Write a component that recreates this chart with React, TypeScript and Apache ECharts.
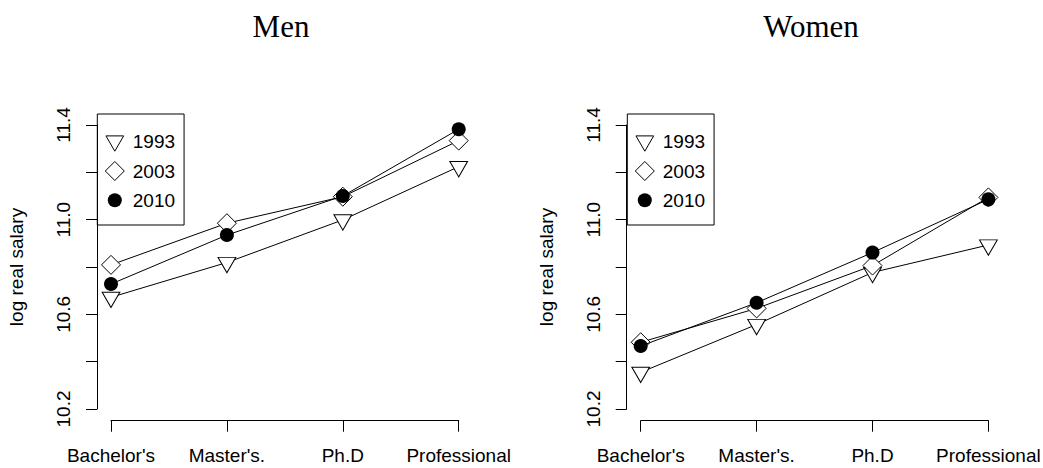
import React, { useEffect, useRef } from 'react';
import * as echarts from 'echarts';

const categories = ["Bachelor's", "Master's.", 'Ph.D', 'Professional'];
const years = ['1993', '2003', '2010'];
const panelTitles = ['Men', 'Women'];
const yTickLabels = ['10.2', '10.6', '11.0', '11.4'];

const men1993 = [10.672, 10.819, 10.999, 11.224];
const men2003 = [10.809, 10.985, 11.097, 11.334];
const men2010 = [10.728, 10.935, 11.1, 11.382];
const women1993 = [10.355, 10.557, 10.777, 10.893];
const women2003 = [10.482, 10.625, 10.806, 11.094];
const women2010 = [10.466, 10.649, 10.861, 11.086];

const panelData = [
  [men1993, men2003, men2010],
  [women1993, women2003, women2010],
];

const SANS = "'Liberation Sans', Arial, Helvetica, sans-serif";
const SERIF = "'Liberation Serif', 'Times New Roman', serif";

const openStyle = { color: '#fff', borderColor: '#000', borderWidth: 1 };
const filledStyle = { color: '#000', borderColor: '#000', borderWidth: 0 };

const markerStyles: any[] = [
  { symbol: 'triangle', symbolSize: [17.7, 15.3], symbolRotate: 180, symbolOffset: [0, 2.55], itemStyle: openStyle },
  { symbol: 'diamond', symbolSize: [19, 19], itemStyle: openStyle },
  { symbol: 'circle', symbolSize: 14, itemStyle: filledStyle },
];

const legendIcons = [
  'path://M0,0M26,20M4.15,4.7L21.85,4.7L13,20Z',
  'path://M0,0M26,20M13,0.5L22.5,10L13,19.5L3.5,10Z',
  'path://M0,0M26,20M6,10A7,7,0,1,1,20,10A7,7,0,1,1,6,10Z',
];
const legendItemStyles = [openStyle, openStyle, filledStyle];

const panels = [
  { gridLeft: 111, legendLeft: 97.3, titleCenter: 281 },
  { gridLeft: 640.7, legendLeft: 627.3, titleCenter: 811 },
];

function buildOption(): any {
  const grid = panels.map((p) => ({
    left: p.gridLeft,
    top: 125,
    width: 347.7,
    height: 284,
    outerBoundsMode: 'none',
  }));

  const xAxis = panels.map((_, i) => ({
    type: 'category',
    gridIndex: i,
    data: categories,
    boundaryGap: false,
    offset: 11.7,
    axisLine: { show: true, onZero: false, lineStyle: { color: '#000', width: 1 } },
    axisTick: { show: true, length: 11, interval: 0, lineStyle: { color: '#000', width: 1 } },
    axisLabel: { interval: 0, margin: 25, fontSize: 19, color: '#000', fontFamily: SANS },
    splitLine: { show: false },
  }));

  const yAxis = panels.map((_, i) => ({
    type: 'value',
    gridIndex: i,
    min: 10.2,
    max: 11.4,
    interval: 0.2,
    offset: 14,
    name: 'log real salary',
    nameLocation: 'middle',
    nameGap: 71,
    nameTextStyle: { fontSize: 19, color: '#000', fontFamily: SANS },
    axisLine: { show: true, onZero: false, lineStyle: { color: '#000', width: 1 } },
    axisTick: { show: true, length: 11, lineStyle: { color: '#000', width: 1 } },
    axisLabel: {
      rotate: 90,
      margin: 24,
      fontSize: 19,
      color: '#000',
      fontFamily: SANS,
      formatter: (v: number) => {
        const s = v.toFixed(1);
        return yTickLabels.includes(s) ? s : '';
      },
    },
    splitLine: { show: false },
  }));

  const series: any[] = [];
  panelData.forEach((sets, p) => {
    sets.forEach((vals, k) => {
      series.push({
        type: 'line',
        name: years[k],
        xAxisIndex: p,
        yAxisIndex: p,
        data: vals,
        ...markerStyles[k],
        showSymbol: true,
        lineStyle: { color: '#000', width: 1 },
        clip: false,
        silent: true,
        emphasis: { disabled: true },
        z: 2 + k,
      });
    });
  });

  const legend = panels.map((p) => ({
    orient: 'vertical',
    left: p.legendLeft,
    top: 114,
    padding: [16.7, 9, 14.7, 4],
    itemGap: 8.8,
    itemWidth: 26,
    itemHeight: 20,
    borderColor: '#000',
    borderWidth: 1,
    borderRadius: 0,
    selectedMode: false,
    symbolKeepAspect: true,
    textStyle: { fontSize: 19, color: '#000', fontFamily: SANS },
    data: years.map((y, k) => ({ name: y, icon: legendIcons[k], itemStyle: legendItemStyles[k] })),
  }));

  const title = panels.map((p, i) => ({
    text: panelTitles[i],
    left: p.titleCenter,
    top: 10.5,
    padding: 0,
    textAlign: 'center',
    textVerticalAlign: 'top',
    textStyle: { fontFamily: SERIF, fontSize: 31, fontWeight: 'normal', color: '#000' },
  }));

  return {
    animation: false,
    backgroundColor: '#fff',
    title,
    legend,
    grid,
    xAxis,
    yAxis,
    series,
  };
}

export default function App() {
  const ref = useRef<HTMLDivElement>(null);
  useEffect(() => {
    if (!ref.current) return;
    const chart = echarts.init(ref.current, null, { renderer: 'svg' });
    chart.setOption(buildOption());
    return () => chart.dispose();
  }, []);
  return (
    <div
      ref={ref}
      style={{ position: 'fixed', left: 0, top: 0, width: 1043, height: 468, background: '#fff' }}
    />
  );
}
